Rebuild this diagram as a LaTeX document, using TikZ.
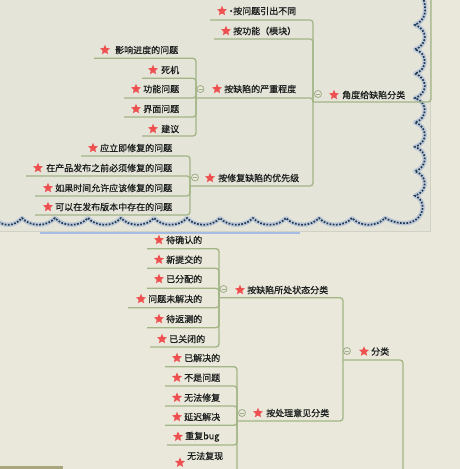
\documentclass[tikz,border=0pt]{standalone}
\usepackage{fontspec}
\setmainfont{Noto Sans CJK SC}
\newfontfamily\mmfont[FakeBold=0.5]{Noto Sans CJK SC}
\usetikzlibrary{shapes.geometric}
\definecolor{bgc}{HTML}{EAE7DB}
\definecolor{bgtop}{HTML}{E5E4D9}
\definecolor{linec}{HTML}{A2B585}
\definecolor{foldc}{HTML}{9DAE88}
\definecolor{starc}{HTML}{EE5050}
\definecolor{txt}{HTML}{1A1E1C}
\definecolor{bandc}{HTML}{BFC9D6}
\definecolor{dotc}{HTML}{1D3A57}
\definecolor{framec}{HTML}{D3D1C3}
\definecolor{selc}{HTML}{A6BCE4}
\definecolor{olivec}{HTML}{A9A57F}
\tikzset{
  mmstar/.style={star, star points=5, star point ratio=2.2, fill=starc, draw=none, inner sep=0pt, minimum size=10.5pt},
  mmtext/.style={anchor=west, inner sep=0pt, font=\mmfont\fontsize{9pt}{11pt}\selectfont, text=txt},
  mmlink/.style={draw=linec, line width=1.3pt, rounded corners=3pt},
  mmfold/.style={circle, draw=foldc, fill=bgc, line width=0.8pt, minimum size=7pt, inner sep=0pt,
    path picture={\draw[foldc, line width=0.8pt] ([xshift=-2pt]path picture bounding box.center) -- ([xshift=2pt]path picture bounding box.center);}},
}
\newcommand\mmitem[5]{\node[mmstar] (#1s) at (#2,#3) {}; \node[mmtext] (#1) at (#4,#3) {#5};}
\begin{document}
\begin{tikzpicture}[x=1pt,y=-1pt]
\clip (0,0) rectangle (460,469);
\fill[bgc] (0,0) rectangle (460,469);
\fill[bgtop] (0,0) rectangle (430,231);
% frame and selection lines
\draw[framec, line width=0.8pt] (430,-2) -- (430,231) -- (-2,231);
\draw[selc, line width=1.6pt] (40,233) -- (300,233);
\draw[olivec, line width=3pt] (-2,467.5) -- (63,467.5);
% cloud border
\def\cloudpath{(423,-3) .. controls (427,10) and (426,20) .. (415,24.9)
  .. controls (428,28.9) and (428,45.3) .. (415,49.3)
  .. controls (428,53.3) and (428,69.7) .. (415,73.7)
  .. controls (428,77.7) and (428,94.1) .. (415,98.1)
  .. controls (428,102.1) and (428,118.5) .. (415,122.5)
  .. controls (428,126.5) and (428,142.9) .. (415,146.9)
  .. controls (428,150.9) and (428,167.3) .. (415,171.3)
  .. controls (428,175.3) and (428,191.7) .. (415,195.7)
  .. controls (432,203) and (420,236) .. (385,218)
  .. controls (377,227) and (360,227) .. (352,218)
  .. controls (344,227) and (327,227) .. (319,218)
  .. controls (311,227) and (294,227) .. (286,218)
  .. controls (278,227) and (261,227) .. (253,218)
  .. controls (245,227) and (228,227) .. (220,218)
  .. controls (212,227) and (195,227) .. (187,218)
  .. controls (179,227) and (162,227) .. (154,218)
  .. controls (146,227) and (129,227) .. (121,218)
  .. controls (113,227) and (96,227) .. (88,218)
  .. controls (80,227) and (63,227) .. (55,218)
  .. controls (47,227) and (30,227) .. (22,218)
  .. controls (14,227) and (4,226) .. (-3,221)}
\draw[bandc, line width=4.5pt, line join=round] \cloudpath;
\draw[dotc, line width=1.7pt, dash pattern=on 1.7pt off 1.5pt] \cloudpath;

% ---------- upper map ----------
\mmitem{a0}{334}{95}{342}{角度给缺陷分类}
\mmitem{a1}{222}{11}{229}{\makebox[4pt][c]{•}按问题引出不同}
\mmitem{a2}{226}{31}{233}{按功能（模块）}
\mmitem{a3}{217}{89}{224}{按缺陷的严重程度}
\mmitem{a4}{210}{178}{218}{按修复缺陷的优先级}
\mmitem{b1}{105}{50}{115}{影响进度的问题}
\mmitem{b2}{153}{70}{161}{死机}
\mmitem{b3}{136}{89}{143}{功能问题}
\mmitem{b4}{136}{109}{143}{界面问题}
\mmitem{b5}{153}{129}{161}{建议}
\mmitem{c1}{93}{148}{100}{应立即修复的问题}
\mmitem{c2}{38}{168}{46}{在产品发布之前必须修复的问题}
\mmitem{c3}{48}{188}{55}{如果时间允许应该修复的问题}
\mmitem{c4}{48}{207}{55}{可以在发布版本中存在的问题}

\coordinate (a0j) at (313,102);
\coordinate (a0top) at (431,-5);
\coordinate (a1u) at (210,20);
\coordinate (a2u) at (214,39);
\coordinate (a3j) at (196,98);
\coordinate (a4j) at (190,186);
\coordinate (b1u) at (94,58.3);
\coordinate (b2u) at (142,78.3);
\coordinate (b3u) at (124,98);
\coordinate (b4u) at (124,117);
\coordinate (b5u) at (142,136);
\coordinate (c1u) at (81,156);
\coordinate (c2u) at (26,176);
\coordinate (c3u) at (35,196);
\coordinate (c4u) at (35,215);

\draw[mmlink] (a0j) -| (a0top);
\foreach \n in {a1u,a2u,a3j,a4j} \draw[mmlink] (\n) -| (a0j);
\foreach \n in {b1u,b2u,b3u,b4u,b5u} \draw[mmlink] (\n) -| (a3j);
\foreach \n in {c1u,c2u,c3u,c4u} \draw[mmlink] (\n) -| (a4j);
\node[mmfold] (a0f) at (318,94) {};
\node[mmfold] (a3f) at (200.5,89) {};
\node[mmfold] (a4f) at (195,177.5) {};

% ---------- lower map ----------
\mmitem{d0}{364}{351.5}{371}{分类}
\mmitem{d1}{240}{290}{247}{按缺陷所处状态分类}
\mmitem{d2}{258}{413}{266}{按处理意见分类}
\mmitem{e1}{159}{240}{166}{待确认的}
\mmitem{e2}{159}{259.7}{166}{新提交的}
\mmitem{e3}{159}{279}{166}{已分配的}
\mmitem{e4}{141}{299}{148}{问题未解决的}
\mmitem{e5}{159}{319}{166}{待返测的}
\mmitem{e6}{162}{339}{169}{已关闭的}
\mmitem{f1}{177}{358}{184}{已解决的}
\mmitem{f2}{177}{377.7}{184}{不是问题}
\mmitem{f3}{177}{397.7}{184}{无法修复}
\mmitem{f4}{177}{417}{184}{延迟解决}
\mmitem{f5}{178}{436.7}{185}{重复bug}
\node[mmstar] (f6s) at (180,462.7) {};
\node[mmtext] (f6) at (187,456) {无法复现};

\coordinate (d0j) at (343,360);
\coordinate (d0down) at (403,480);
\coordinate (d1j) at (219,297.7);
\coordinate (d2j) at (237,421);
\coordinate (e1u) at (147,248.7);
\coordinate (e2u) at (147,268.3);
\coordinate (e3u) at (147,288.3);
\coordinate (e4u) at (128,307.7);
\coordinate (e5u) at (147,327.7);
\coordinate (e6u) at (150,347);
\coordinate (f1u) at (165,366.7);
\coordinate (f2u) at (165,386);
\coordinate (f3u) at (165,406);
\coordinate (f4u) at (165,425.3);
\coordinate (f5u) at (167,445);
\coordinate (f6u) at (165,482);

\draw[mmlink] (d0j) -| (d0down);
\foreach \n in {d1j,d2j} \draw[mmlink] (\n) -| (d0j);
\foreach \n in {e1u,e2u,e3u,e4u,e5u,e6u} \draw[mmlink] (\n) -| (d1j);
\foreach \n in {f1u,f2u,f3u,f4u,f5u,f6u} \draw[mmlink] (\n) -| (d2j);
\node[mmfold] (d0f) at (347,351) {};
\node[mmfold] (d1f) at (223.5,289) {};
\node[mmfold] (d2f) at (242,413) {};
\end{tikzpicture}
\end{document}
